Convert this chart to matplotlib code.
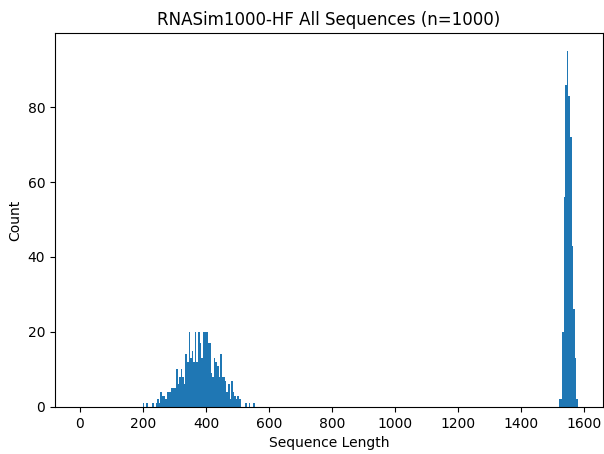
import numpy as np
import matplotlib.pyplot as plt

# sequence-length histogram, 5 nt bins (bin start -> count)
bin_starts = [200, 210, 230, 240, 245, 250, 255, 260, 265, 270, 275, 280, 285,
              290, 295, 300, 305, 310, 315, 320, 325, 330, 335, 340, 345, 350,
              355, 360, 365, 370, 375, 380, 385, 390, 395, 400, 405, 410, 415,
              420, 425, 430, 435, 440, 445, 450, 455, 460, 465, 470, 475, 480,
              485, 490, 495, 500, 505, 525, 535, 550,
              1520, 1525, 1530, 1535, 1540, 1545, 1550, 1555, 1560, 1565, 1570, 1575]
counts = [1, 1, 1, 1, 2, 1, 4, 3, 3, 2, 4, 4, 4,
          5, 5, 5, 10, 6, 8, 10, 8, 6, 14, 12, 20, 13,
          15, 12, 20, 12, 20, 17, 13, 20, 20, 20, 17, 17, 9,
          8, 13, 12, 11, 8, 14, 8, 8, 7, 4, 6, 2, 7,
          4, 3, 2, 3, 2, 1, 1, 1,
          2, 2, 20, 56, 86, 95, 83, 72, 43, 26, 13, 2]

bin_width = 5
max_len = 1580

fig, ax = plt.subplots(figsize=(6.04, 4.54), dpi=100)
edges = np.arange(0, max_len + bin_width, bin_width)
ax.hist(np.array(bin_starts) + bin_width / 2, bins=edges, weights=counts, color='#1f77b4')

ax.set_title("RNASim1000-HF All Sequences (n=1000)")
ax.set_xlabel("Sequence Length")
ax.set_ylabel("Count")
ax.set_xticks(np.arange(0, 1601, 200))
ax.set_yticks([0, 20, 40, 60, 80])

fig.subplots_adjust(left=0.091, right=0.998, top=0.927, bottom=0.104)
fig.savefig("out.png", dpi=100)
